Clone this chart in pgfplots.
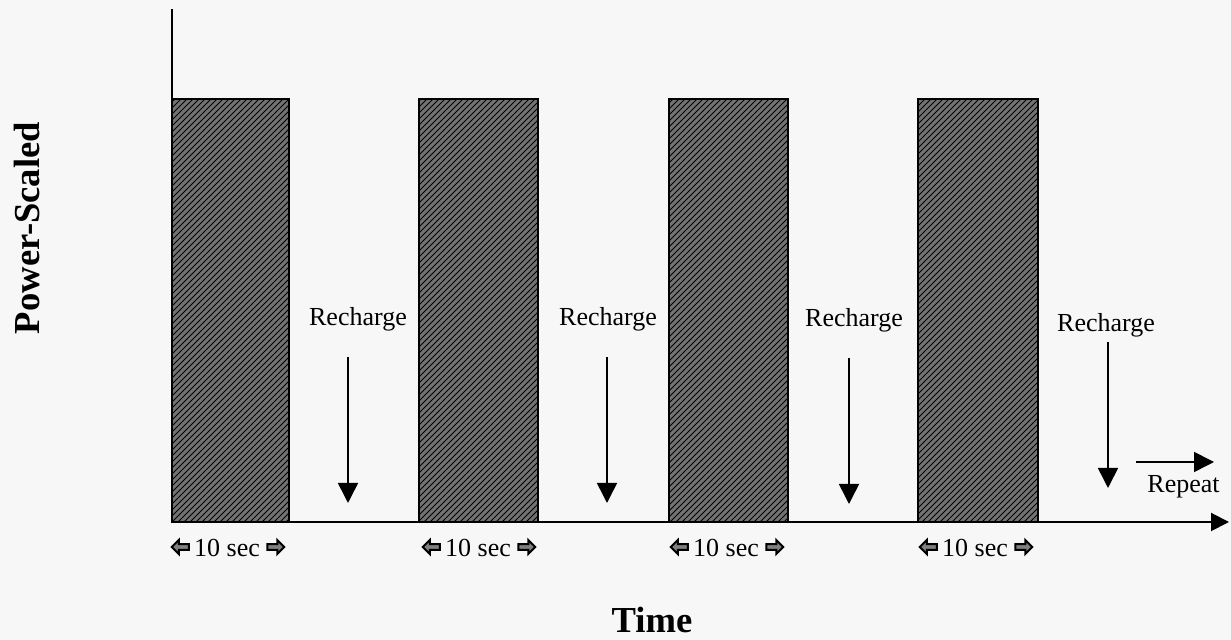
\documentclass[border=0pt]{standalone}
\usepackage{pgfplots}
\pgfplotsset{compat=1.18}
\usepackage{fontspec}
\setmainfont{Liberation Serif}
\usetikzlibrary{patterns,arrows.meta,shapes.arrows}
\definecolor{bg}{HTML}{F7F7F7}
\tikzset{
  barst/.style={draw=black, line width=1.3pt, fill=black!55,
     postaction={pattern=north east lines, pattern color=black}},
  lbl/.style={font=\fontsize{13}{15}\selectfont, inner sep=0pt, anchor=base},
  arr/.style={line width=0.8pt, -{Triangle[length=10pt,width=10pt]}},
  sa/.style={single arrow, draw=black, line width=1pt, fill=black!50,
     minimum height=8.5pt, minimum width=7pt, single arrow head extend=1.4pt,
     inner sep=0.5pt},
}
\begin{document}
\begin{tikzpicture}[x=0.5pt,y=0.5pt]
\useasboundingbox (0,0) rectangle (1231,640);
\fill[bg] (0,0) rectangle (1231,640);
\begin{axis}[
  at={(86pt,59pt)}, anchor=south west,
  scale only axis, width=528.5pt, height=256.5pt,
  xmin=172, xmax=1229, ymin=0, ymax=513,
  axis x line=bottom, axis y line=left,
  x axis line style={line width=1pt, -{Triangle[length=9pt,width=9pt]}},
  y axis line style={line width=1pt, -},
  xtick=\empty, ytick=\empty,
  clip=false,
]
\addplot[barst] coordinates {(172,0) (172,423) (289,423) (289,0)} -- cycle;
\addplot[barst] coordinates {(419,0) (419,423) (538,423) (538,0)} -- cycle;
\addplot[barst] coordinates {(669,0) (669,423) (788,423) (788,0)} -- cycle;
\addplot[barst] coordinates {(918,0) (918,423) (1038,423) (1038,0)} -- cycle;

\node[lbl] at (axis cs:358,196) {Recharge};
\node[lbl] at (axis cs:608,196) {Recharge};
\node[lbl] at (axis cs:854,195) {Recharge};
\node[lbl] at (axis cs:1106,190) {Recharge};

\draw[arr] (axis cs:348,165) -- (axis cs:348,19);
\draw[arr] (axis cs:607,165) -- (axis cs:607,19);
\draw[arr] (axis cs:849,164) -- (axis cs:849,18);
\draw[arr] (axis cs:1108,180) -- (axis cs:1108,34);

\draw[arr] (axis cs:1136,60) -- (axis cs:1214,60);
\node[lbl, anchor=base west] at (axis cs:1147,29) {Repeat};

\node[lbl] (s1) at (axis cs:227,-35) {10 sec};
\node[lbl] (s2) at (axis cs:478,-35) {10 sec};
\node[lbl] (s3) at (axis cs:726,-35) {10 sec};
\node[lbl] (s4) at (axis cs:975,-35) {10 sec};
\node[sa, shape border rotate=180, anchor=east] at ([xshift=-2pt,yshift=5pt]s1.base west) {};
\node[sa, anchor=west] at ([xshift=3pt,yshift=5pt]s1.base east) {};
\node[sa, shape border rotate=180, anchor=east] at ([xshift=-2pt,yshift=5pt]s2.base west) {};
\node[sa, anchor=west] at ([xshift=3pt,yshift=5pt]s2.base east) {};
\node[sa, shape border rotate=180, anchor=east] at ([xshift=-2pt,yshift=5pt]s3.base west) {};
\node[sa, anchor=west] at ([xshift=3pt,yshift=5pt]s3.base east) {};
\node[sa, shape border rotate=180, anchor=east] at ([xshift=-2pt,yshift=5pt]s4.base west) {};
\node[sa, anchor=west] at ([xshift=3pt,yshift=5pt]s4.base east) {};

\node[font=\fontsize{18.3}{20}\selectfont\bfseries, inner sep=0pt, anchor=base] at (axis cs:652,-111) {Time};
\node[font=\fontsize{18.3}{20}\selectfont\bfseries, inner sep=0pt, anchor=base, rotate=90] at (axis cs:40,294) {Power-Scaled};
\end{axis}
\end{tikzpicture}
\end{document}
